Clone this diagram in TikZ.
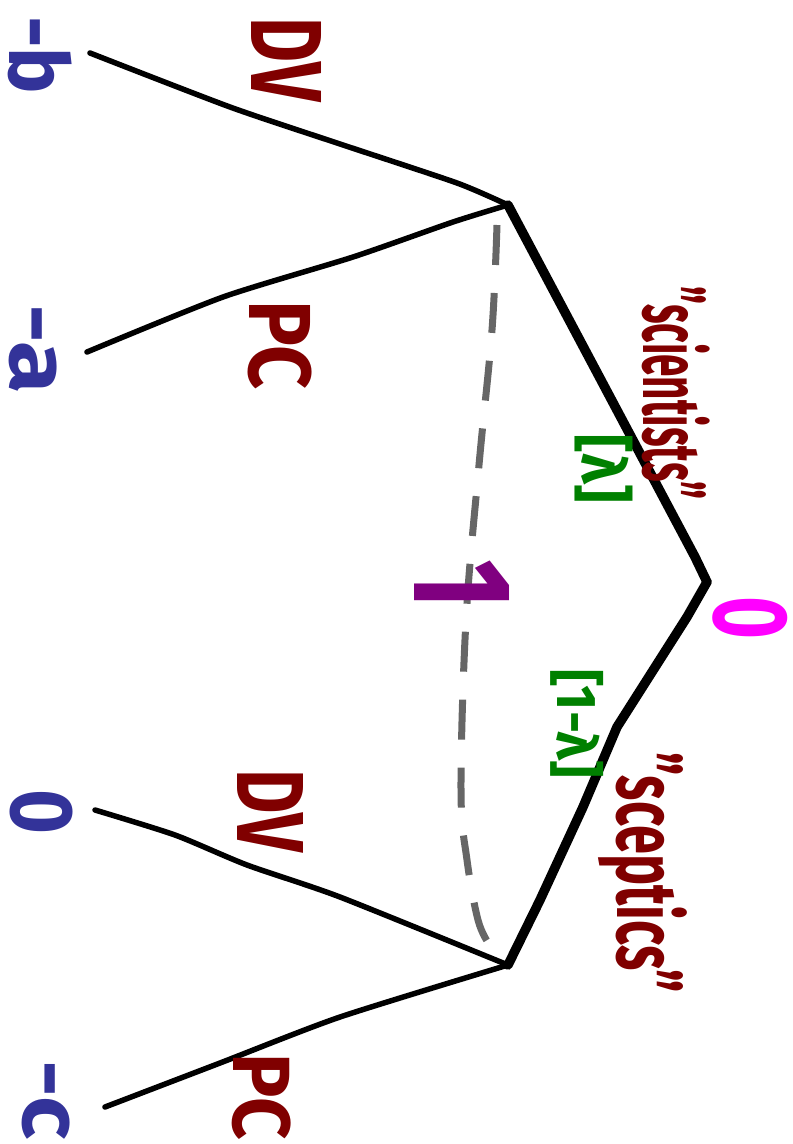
\documentclass[tikz,border=0pt]{standalone}
\usepackage{fontspec}
\setmainfont{Fira Sans}
\usepackage{graphicx}
\definecolor{lblred}{HTML}{800000}
\definecolor{payblue}{HTML}{333399}
\definecolor{probgreen}{HTML}{008000}
\definecolor{plrpurple}{HTML}{800080}
\definecolor{natmag}{HTML}{FF00FF}
\definecolor{infogray}{HTML}{666666}
\newcommand{\hlab}[3]{\resizebox*{#1pt}{#2pt}{\bfseries #3}}
\begin{document}
\begin{tikzpicture}[x=1pt,y=-1pt,
  mainbranch/.style={line width=9.5pt, line join=round, line cap=round},
  subbranch/.style={line width=5.5pt, line join=round, line cap=round},
  infoset/.style={line width=7pt, draw=infogray, dash pattern=on 40pt off 28pt},
  txt/.style={rotate=-90, inner sep=0pt, outer sep=0pt, anchor=center},
  actlab/.style={txt, text=lblred},
  paylab/.style={txt, text=payblue},
  problab/.style={txt, text=probgreen}]
\useasboundingbox (0,0) rectangle (793,1144);
% tree nodes
\coordinate (root) at (707,582);
\coordinate (u) at (508,205);
\coordinate (l) at (508,965);
\coordinate (ub) at (90,53);
\coordinate (ua) at (87,352);
\coordinate (l0) at (95,810);
\coordinate (lc) at (105,1107);
\coordinate (iu) at (497,225);
\coordinate (il) at (489,944);
% information set
\draw[infoset] plot[smooth, tension=0.6] coordinates {(iu) (492,330) (479,465) (466,620) (461,790) (467,860) (478,920) (il)};
% main branches
\draw[mainbranch] (root) -- (695,557) -- (u);
\draw[mainbranch] (root) -- (687,617) -- (617,727) -- (583,807) -- (540,900) -- (l);
% sub branches
\draw[subbranch] plot[smooth, tension=0.4] coordinates {(ub) (230,107) (337,143) (457,183) (u)};
\draw[subbranch] plot[smooth, tension=0.4] coordinates {(ua) (223,297) (353,257) (453,222) (u)};
\draw[subbranch] plot[smooth, tension=0.4] coordinates {(l0) (175,835) (247,865) (340,897) (l)};
\draw[subbranch] plot[smooth, tension=0.4] coordinates {(lc) (220,1063) (340,1017) (l)};
% action labels
\node[actlab] (dvu) at (286,60) {\hlab{84}{70}{DV}};
\node[actlab] (pcu) at (280,345) {\hlab{90}{64}{PC}};
\node[actlab] (dvl) at (270,811) {\hlab{83}{66}{DV}};
\node[actlab] (pcl) at (262,1097) {\hlab{87}{59}{PC}};
\node[actlab] (sci) at (676,393) {\hlab{213}{68}{"scientists"}};
\node[actlab] (scep) at (643,873) {\hlab{240}{89}{"sceptics"}};
% payoffs
\node[paylab] (payb) at (40,55) {\hlab{78}{64}{-b}};
\node[paylab] (paya) at (33,349) {\hlab{90}{48}{-a}};
\node[paylab] (pay0) at (41,812) {\hlab{45}{63}{0}};
\node[paylab] (payc) at (46,1100) {\hlab{80}{48}{-c}};
% probabilities
\node[problab] (lam) at (604,469) {\hlab{68}{58}{[λ]}};
\node[problab] (onelam) at (577,724) {\hlab{108}{53}{[1-λ]}};
% player and nature
\node[txt, text=plrpurple] (pl) at (462,585) {\hlab{50}{95}{1}};
\node[txt, text=natmag] (nat) at (750,618) {\hlab{43}{75}{0}};
\end{tikzpicture}
\end{document}
